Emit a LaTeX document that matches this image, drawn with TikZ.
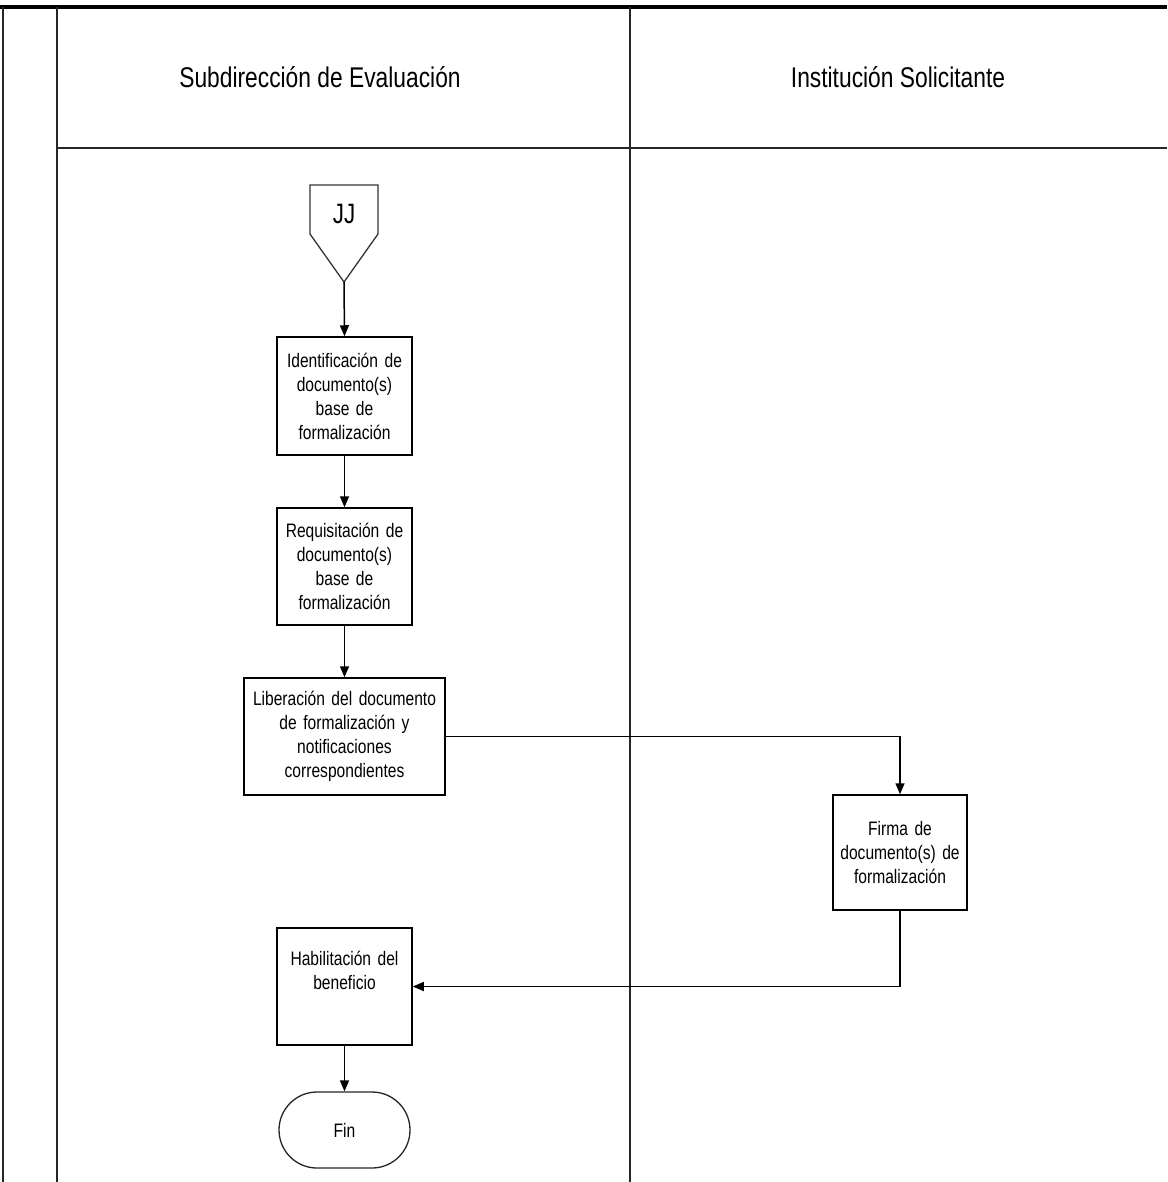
\documentclass[tikz,border=0pt]{standalone}
\usepackage{fontspec}
\setmainfont[FakeStretch=0.8]{Liberation Sans}
\usetikzlibrary{arrows.meta, shapes.misc}
\tikzset{
  procbox/.style={draw=black, line width=1.5pt, fill=white, align=center, inner sep=2pt,
    font=\fontsize{19.5}{24}\selectfont},
  lanehead/.style={font=\fontsize{28.5}{32}\selectfont, anchor=center},
  flow/.style={line width=1.5pt, -{Triangle[length=11pt,width=9pt]}},
  poolline/.style={line width=1.6pt, draw=black!85},
}
\begin{document}
\begin{tikzpicture}[x=1pt,y=-1pt]
\useasboundingbox (0,0) rectangle (1167,1182);
% pool frame
\draw[line width=4pt] (0,7) -- (1167,7);
\draw[poolline, line width=2pt] (3,7) -- (3,1182);
\draw[poolline] (57,7) -- (57,1182);
\draw[poolline] (630,7) -- (630,1182);
\draw[poolline] (57,148) -- (1167,148);
% lane headers
\node[lanehead] (h1) at (320,77) {Subdirección de Evaluación};
\node[lanehead] (h2) at (898,77) {Institución Solicitante};
% off-page connector
\draw[line width=1.3pt, draw=black!80] (310,185) -- (378,185) -- (378,234) -- (344,282) -- (310,234) -- cycle;
\node[font=\fontsize{28}{30}\selectfont] (jj) at (344,214) {JJ};
\coordinate (jjtip) at (344,282);
% process boxes
\node[procbox, minimum width=135pt, minimum height=118pt, text width=130pt] (b1) at (344.5,396)
  {Identificación de\\documento(s)\\base de\\formalización};
\node[procbox, minimum width=135pt, minimum height=117pt, text width=130pt] (b2) at (344.5,566.5)
  {Requisitación de\\documento(s)\\base de\\formalización};
\node[procbox, minimum width=201pt, minimum height=117pt, text width=196pt] (b3) at (344.5,736.5)
  {Liberación del documento\\de formalización y\\notificaciones\\correspondientes};
\node[procbox, minimum width=134pt, minimum height=115pt, text width=130pt] (b4) at (900,852.5)
  {Firma de\\documento(s) de\\formalización};
\node[procbox, minimum width=135pt, minimum height=117pt, text width=130pt] (b5) at (344.5,986.5)
  {Habilitación del\\beneficio\\[8pt]\mbox{}};
\node[procbox, draw=black!85, line width=1.3pt, rounded rectangle, minimum width=135pt, minimum height=76pt] (fin) at (344.5,1130) {Fin};
% connectors
\draw[flow] (jjtip) -- (b1.north);
\draw[flow] (b1.south) -- (b2.north);
\draw[flow] (b2.south) -- (b3.north);
\draw[flow] (b3.east) -| (b4.north);
\draw[flow] (b4.south) |- (b5.east);
\draw[flow] (b5.south) -- (fin.north);
\end{tikzpicture}
\end{document}
